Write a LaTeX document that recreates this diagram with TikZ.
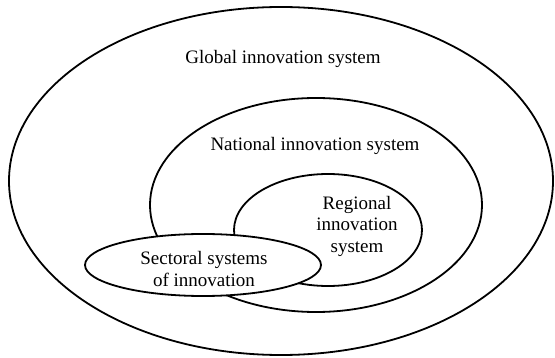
\documentclass[tikz,border=0pt]{standalone}
\usepackage{fontspec}
\setmainfont{Liberation Serif}
\usetikzlibrary{shapes,positioning}
\tikzstyle{system}=[ellipse,draw=black,line width=1.8pt,inner sep=0pt]
\tikzstyle{label}=[inner sep=0pt,align=center,font=\fontsize{19}{21.5}\selectfont]

\begin{document}
\begin{tikzpicture}[x=1pt,y=-1pt]
  \useasboundingbox (0,0) rectangle (555,358);

  \node[system, minimum width=544pt, minimum height=348pt] (global) at (281,181) {};
  \node[system, minimum width=332pt, minimum height=214pt] (national) at (316,205) {};
  \node[system, minimum width=188pt, minimum height=112pt] (regional) at (328,230) {};
  \node[system, fill=white, minimum width=236pt, minimum height=62pt] (sectoral) at (203,265) {};

  \node[label, anchor=base] (globaltext) at (283,64) {Global innovation system};
  \node[label, anchor=base] (nationaltext) at (315,151) {National innovation system};
  \node[label] (regionaltext) at (357,226) {Regional\\innovation\\system};
  \node[label] (sectoraltext) at (204,269) {Sectoral systems\\of innovation};
\end{tikzpicture}
\end{document}
